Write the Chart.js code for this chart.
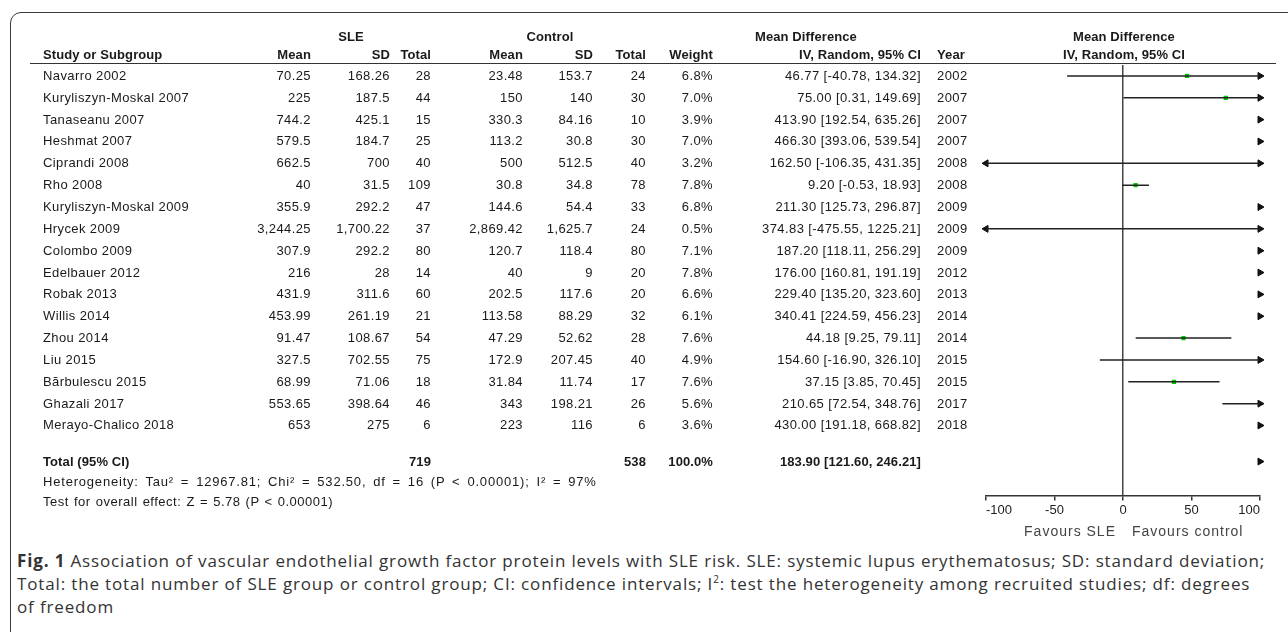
<!DOCTYPE html>
<html>
<head>
<meta charset="utf-8">
<script src="https://cdn.jsdelivr.net/npm/chart.js@4.4.1/dist/chart.umd.min.js"></script>
<style>
body{margin:0;background:#fff;width:1288px;height:632px;overflow:hidden;position:relative;font-family:"Liberation Sans",Arial,sans-serif;font-size:13px;color:#1a1a1a}
#frame{position:absolute;left:10px;top:12px;width:1320px;height:700px;border:1.5px solid #3a3a3a;border-radius:11px}
#plot{position:absolute;left:0;top:0}
.t{position:absolute;white-space:nowrap;line-height:14px;letter-spacing:0.4px}
.r{text-align:right;width:200px}
.c{text-align:center;width:200px}
.b{font-weight:bold;letter-spacing:0.1px}
.het{word-spacing:2.5px;letter-spacing:0.8px}
.test{word-spacing:1px;letter-spacing:0.5px}
.fav{font-size:14px;letter-spacing:1px;color:#444}
#rule{position:absolute;left:30px;top:63px;width:1246px;height:0;border-top:1.5px solid #333}
#caption{position:absolute;left:17px;top:549px;font-family:"Open Sans",sans-serif;font-size:17px;letter-spacing:0.85px;line-height:23px;color:#333;white-space:nowrap}
#caption sup{font-size:10px;line-height:0}
</style>
</head>
<body>
<div id="frame"></div>
<canvas id="plot" width="1288" height="545"></canvas>
<div id="rule"></div>
<div id="cells"></div>
<div id="caption"><b>Fig. 1</b> Association of vascular endothelial growth factor protein levels with SLE risk. SLE: systemic lupus erythematosus; SD: standard deviation;<br>Total: the total number of SLE group or control group; CI: confidence intervals; I<sup>2</sup>: test the heterogeneity among recruited studies; df: degrees<br>of freedom</div>
<script>
// data
const studies = ['Navarro 2002', 'Kuryliszyn-Moskal 2007', 'Tanaseanu 2007', 'Heshmat 2007', 'Ciprandi 2008', 'Rho 2008',
    'Kuryliszyn-Moskal 2009', 'Hrycek 2009', 'Colombo 2009', 'Edelbauer 2012', 'Robak 2013', 'Willis 2014', 'Zhou 2014',
    'Liu 2015', 'Bărbulescu 2015', 'Ghazali 2017', 'Merayo-Chalico 2018'];
const sleMean = [70.25, 225, 744.2, 579.5, 662.5, 40, 355.9, 3244.25, 307.9, 216, 431.9, 453.99, 91.47, 327.5, 68.99, 553.65, 653];
const sleSD = [168.26, 187.5, 425.1, 184.7, 700, 31.5, 292.2, 1700.22, 292.2, 28, 311.6, 261.19, 108.67, 702.55, 71.06, 398.64, 275];
const sleN = [28, 44, 15, 25, 40, 109, 47, 37, 80, 14, 60, 21, 54, 75, 18, 46, 6];
const ctrlMean = [23.48, 150, 330.3, 113.2, 500, 30.8, 144.6, 2869.42, 120.7, 40, 202.5, 113.58, 47.29, 172.9, 31.84, 343, 223];
const ctrlSD = [153.7, 140, 84.16, 30.8, 512.5, 34.8, 54.4, 1625.7, 118.4, 9, 117.6, 88.29, 52.62, 207.45, 11.74, 198.21, 116];
const ctrlN = [24, 30, 10, 30, 40, 78, 33, 24, 80, 20, 20, 32, 28, 40, 17, 26, 6];
const weights = [6.8, 7.0, 3.9, 7.0, 3.2, 7.8, 6.8, 0.5, 7.1, 7.8, 6.6, 6.1, 7.6, 4.9, 7.6, 5.6, 3.6];
const meanDiff = [46.77, 75.00, 413.90, 466.30, 162.50, 9.20, 211.30, 374.83, 187.20, 176.00, 229.40, 340.41, 44.18, 154.60, 37.15, 210.65, 430.00];
const ciLow = [-40.78, 0.31, 192.54, 393.06, -106.35, -0.53, 125.73, -475.55, 118.11, 160.81, 135.20, 224.59, 9.25, -16.90, 3.85, 72.54, 191.18];
const ciHigh = [134.32, 149.69, 635.26, 539.54, 431.35, 18.93, 296.87, 1225.21, 256.29, 191.19, 323.60, 456.23, 79.11, 326.10, 70.45, 348.76, 668.82];
const years = [2002, 2007, 2007, 2007, 2008, 2008, 2009, 2009, 2009, 2012, 2013, 2014, 2014, 2015, 2015, 2017, 2018];
const totalN = [719, 538];
const totalEffect = [183.90, 121.60, 246.21];
const xTicks = [-100, -50, 0, 50, 100];

const TOTAL_ROW = 17.65;
const LIM = 100;

function fmt(v) { return v.toLocaleString('en-US', {maximumFractionDigits: 2}); }
function ciText(m, lo, hi) { return m.toFixed(2) + ' [' + lo.toFixed(2) + ', ' + hi.toFixed(2) + ']'; }
function clamp(v) { return Math.max(-LIM, Math.min(LIM, v)); }

// one line dataset per study (CI whiskers)
var datasets = [];
studies.forEach(function(s, i) {
    datasets.push({
        type: 'scatter', showLine: true, data: [{x: clamp(ciLow[i]), y: i}, {x: clamp(ciHigh[i]), y: i}],
        borderColor: '#222', borderWidth: 1.5, pointRadius: 0
    });
});

// arrows where the interval runs off the axis
var allLow = ciLow.concat([totalEffect[1]]), allHigh = ciHigh.concat([totalEffect[2]]);
var rowOf = function(i) { return i < studies.length ? i : TOTAL_ROW; };
var rightArrows = [], leftArrows = [];
allHigh.forEach(function(h, i) { if (h > LIM) rightArrows.push({x: LIM, y: rowOf(i)}); });
allLow.forEach(function(l, i) { if (l < -LIM) leftArrows.push({x: -LIM, y: rowOf(i)}); });
datasets.push({type: 'scatter', data: rightArrows, pointStyle: 'triangle', rotation: 90, pointRadius: 4,
    backgroundColor: '#111', borderColor: '#111', borderWidth: 1, clip: false});
datasets.push({type: 'scatter', data: leftArrows, pointStyle: 'triangle', rotation: -90, pointRadius: 4,
    backgroundColor: '#111', borderColor: '#111', borderWidth: 1, clip: false});

// green squares for point estimates in range
var pts = [];
meanDiff.forEach(function(m, i) { if (Math.abs(m) <= LIM) pts.push({x: m, y: i}); });
datasets.push({type: 'scatter', data: pts, pointStyle: 'rect', pointRadius: 3, backgroundColor: '#00cc00', borderWidth: 0});

// table text placed on the same rows as the plot
function cell(txt, x, y, cls) {
    var d = document.createElement('div');
    d.className = 't ' + (cls || '');
    if (cls && cls.indexOf('r') >= 0) d.style.left = (x - 200) + 'px';
    else if (cls && cls.indexOf('c') >= 0) d.style.left = (x - 100) + 'px';
    else d.style.left = x + 'px';
    d.style.top = (y - 7) + 'px';
    d.textContent = txt;
    document.getElementById('cells').appendChild(d);
    return d;
}

var tablePlugin = {
    id: 'table',
    afterDraw: function(chart) {
        if (chart._tableDone) return;
        chart._tableDone = true;
        var ys = chart.scales.y, xs = chart.scales.x;
        // headers
        cell('SLE', 351, 37, 'c b');
        cell('Control', 550, 37, 'c b');
        cell('Mean Difference', 755, 37, 'b');
        cell('Mean Difference', 1124, 37, 'c b');
        cell('Study or Subgroup', 43, 55, 'b');
        cell('Mean', 311, 55, 'r b'); cell('SD', 390, 55, 'r b'); cell('Total', 431, 55, 'r b');
        cell('Mean', 523, 55, 'r b'); cell('SD', 593, 55, 'r b'); cell('Total', 646, 55, 'r b');
        cell('Weight', 713, 55, 'r b');
        cell('IV, Random, 95% CI', 921, 55, 'r b');
        cell('Year', 937, 55, 'b');
        cell('IV, Random, 95% CI', 1124, 55, 'c b');
        studies.forEach(function(s, i) {
            var y = ys.getPixelForValue(i);
            cell(s, 43, y);
            cell(fmt(sleMean[i]), 311, y, 'r');
            cell(fmt(sleSD[i]), 390, y, 'r');
            cell(String(sleN[i]), 431, y, 'r');
            cell(fmt(ctrlMean[i]), 523, y, 'r');
            cell(fmt(ctrlSD[i]), 593, y, 'r');
            cell(String(ctrlN[i]), 646, y, 'r');
            cell(weights[i].toFixed(1) + '%', 713, y, 'r');
            cell(ciText(meanDiff[i], ciLow[i], ciHigh[i]), 921, y, 'r');
            cell(String(years[i]), 937, y);
        });
        var ty = ys.getPixelForValue(TOTAL_ROW);
        cell('Total (95% CI)', 43, ty, 'b');
        cell(String(totalN[0]), 431, ty, 'r b');
        cell(String(totalN[1]), 646, ty, 'r b');
        cell('100.0%', 713, ty, 'r b');
        cell(ciText(totalEffect[0], totalEffect[1], totalEffect[2]), 921, ty, 'r b');
        cell('Heterogeneity: Tau² = 12967.81; Chi² = 532.50, df = 16 (P < 0.00001); I² = 97%', 43, ty + 20, 'het');
        cell('Test for overall effect: Z = 5.78 (P < 0.00001)', 43, ty + 40, 'test');
        // favours labels either side of the zero line
        var zx = xs.getPixelForValue(0), fy = chart.chartArea.bottom + 36;
        cell('Favours SLE', zx - 7, fy, 'r fav');
        cell('Favours control', zx + 9, fy, 'fav');
    }
};

var ctx = document.getElementById('plot').getContext('2d');
var forest = new Chart(ctx, {
    data: {datasets: datasets},
    plugins: [tablePlugin],
    options: {
        responsive: false,
        animation: false,
        devicePixelRatio: 1,
        layout: {padding: {left: 986, right: 28, top: 65, bottom: 25}},
        plugins: {legend: {display: false}, tooltip: {enabled: false}},
        scales: {
            x: {
                type: 'linear', min: -LIM, max: LIM,
                afterBuildTicks: function(s) { s.ticks = xTicks.map(function(v) { return {value: v}; }); },
                ticks: {font: {family: 'Liberation Sans', size: 13}, color: '#222', padding: 2, align: 'inner', maxRotation: 0},
                grid: {
                    color: function(c) { return c.tick && c.tick.value === 0 ? '#444' : 'rgba(0,0,0,0)'; },
                    lineWidth: 1.5, tickColor: '#333', tickLength: 5, drawTicks: true
                },
                border: {display: true, color: '#333', width: 1.5}
            },
            y: {type: 'linear', min: -0.5, max: 19.2, reverse: true, display: false}
        }
    }
});
</script>
</body>
</html>
